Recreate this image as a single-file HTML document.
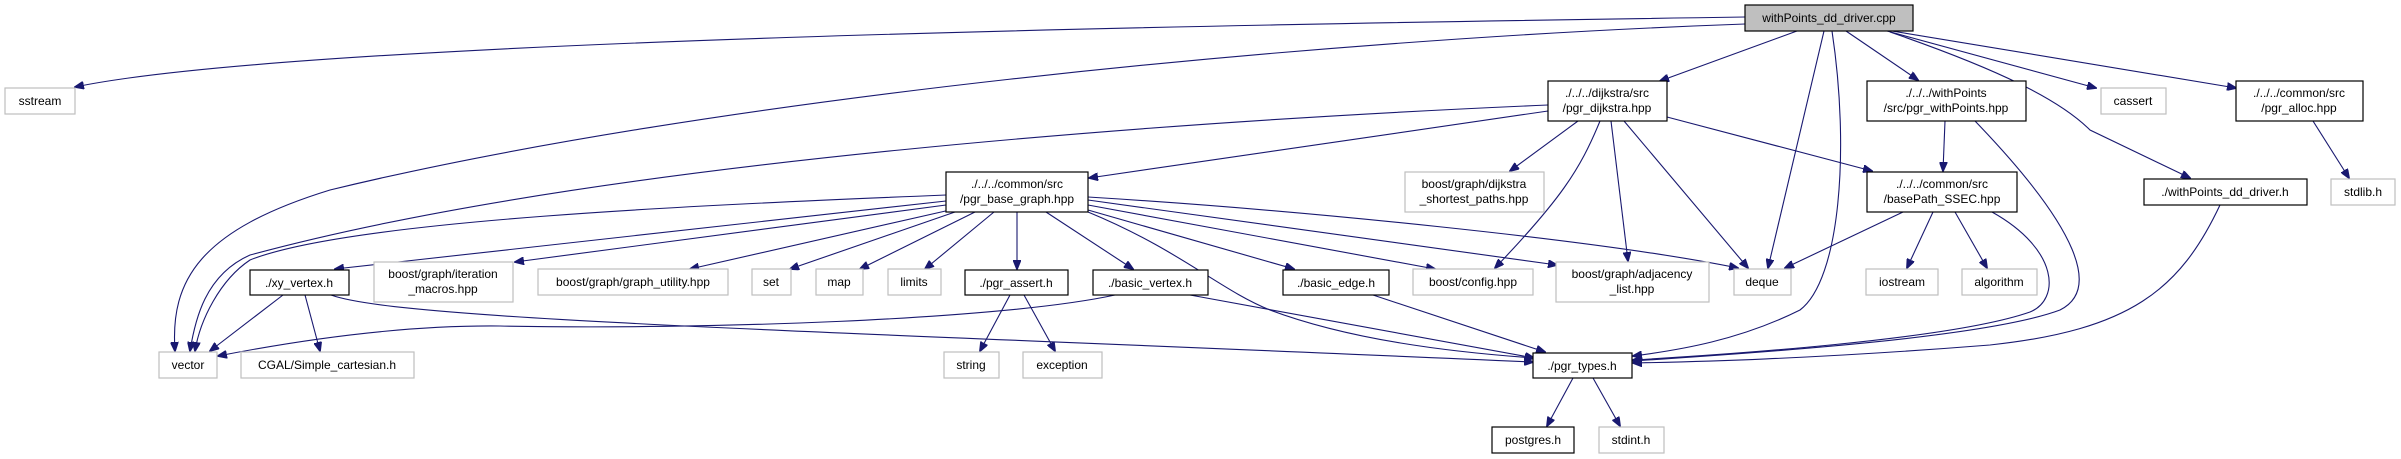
<!DOCTYPE html>
<html><head><meta charset="utf-8"><style>
html,body{margin:0;padding:0;background:#fff;}
svg{display:block;}
text{font-family:"Liberation Sans",Arial,sans-serif;font-size:12px;fill:#000;text-anchor:middle;}
.e{fill:none;stroke:#191970;stroke-width:1.1;marker-end:url(#a);}
.g{fill:#fff;stroke:#bfbfbf;stroke-width:1.2;}
.b{fill:#fff;stroke:#000;stroke-width:1.2;}
</style></head><body>
<svg width="2401" height="459" viewBox="0 0 2401 459" xmlns="http://www.w3.org/2000/svg">
<defs><marker id="a" markerWidth="10" markerHeight="8" refX="9" refY="4" orient="auto" markerUnits="userSpaceOnUse"><path d="M0,0 L10,4 L0,8 z" fill="#191970" stroke="#191970"/></marker></defs>
<!-- edges -->
<path class="e" d="M1745,17 C1200,25 300,40 75,87"/>
<path class="e" d="M1745,24 C1300,40 700,100 330,190 C200,230 170,280 175,351"/>
<path class="e" d="M1797,31 L1660,81"/>
<path class="e" d="M1824,31 L1768,268"/>
<path class="e" d="M1832,31 C1850,150 1840,280 1800,310 C1740,340 1680,350 1633,356"/>
<path class="e" d="M1846,31 L1918,80"/>
<path class="e" d="M1887,31 L2096,88"/>
<path class="e" d="M1892,31 L2236,88"/>
<path class="e" d="M1890,32 C2000,70 2060,100 2090,130 L2190,178"/>
<path class="e" d="M1548,105 C1200,120 600,160 250,255 C205,275 195,320 190,351"/>
<path class="e" d="M1548,111 L1089,178"/>
<path class="e" d="M1578,121 L1510,171"/>
<path class="e" d="M1600,121 C1580,170 1560,200 1495,268"/>
<path class="e" d="M1611,121 L1628,261"/>
<path class="e" d="M1624,121 L1748,268"/>
<path class="e" d="M1667,117 L1872,171"/>
<path class="e" d="M946,195 C700,205 350,220 250,260 C220,280 200,320 195,351"/>
<path class="e" d="M946,201 L335,269"/>
<path class="e" d="M946,205 L515,262"/>
<path class="e" d="M950,210 L690,269"/>
<path class="e" d="M955,212 L790,269"/>
<path class="e" d="M975,212 L860,269"/>
<path class="e" d="M994,212 L925,269"/>
<path class="e" d="M1017,212 L1017,269"/>
<path class="e" d="M1046,212 L1133,269"/>
<path class="e" d="M1088,210 L1294,269"/>
<path class="e" d="M1088,205 L1435,269"/>
<path class="e" d="M1088,200 L1557,265"/>
<path class="e" d="M1088,197 C1300,210 1600,240 1738,268"/>
<path class="e" d="M1088,212 C1180,250 1220,290 1270,310 C1350,340 1450,352 1534,358"/>
<path class="e" d="M1903,212 L1785,268"/>
<path class="e" d="M1933,212 L1907,268"/>
<path class="e" d="M1955,212 L1987,268"/>
<path class="e" d="M1992,212 C2060,250 2060,300 2030,312 C1950,340 1720,355 1633,360"/>
<path class="e" d="M1945,121 L1943,171"/>
<path class="e" d="M1975,121 C2080,230 2100,290 2060,310 C1980,340 1720,355 1633,361"/>
<path class="e" d="M2220,205 C2180,290 2130,330 1990,345 C1800,360 1680,362 1633,363"/>
<path class="e" d="M2313,121 L2349,178"/>
<path class="e" d="M283,295 L210,351"/>
<path class="e" d="M305,295 L320,351"/>
<path class="e" d="M331,295 C400,320 800,330 1533,362"/>
<path class="e" d="M1115,295 C1000,320 700,330 500,326 C400,325 300,340 218,356"/>
<path class="e" d="M1190,295 L1534,358"/>
<path class="e" d="M1373,295 L1545,352"/>
<path class="e" d="M1010,295 L980,351"/>
<path class="e" d="M1024,295 L1055,351"/>
<path class="e" d="M1573,378 L1547,426"/>
<path class="e" d="M1593,378 L1620,426"/>
<!-- nodes -->
<rect x="1745" y="5" width="168" height="26" fill="#bfbfbf" stroke="#000" stroke-width="1.2"/><text x="1829" y="22">withPoints_dd_driver.cpp</text>
<rect class="g" x="5" y="88" width="70" height="26"/><text x="40" y="105">sstream</text>
<rect class="b" x="1548" y="81" width="119" height="40"/><text x="1607" y="97">./../../dijkstra/src</text><text x="1607" y="112">/pgr_dijkstra.hpp</text>
<rect class="b" x="1867" y="81" width="159" height="40"/><text x="1946" y="97">./../../withPoints</text><text x="1946" y="112">/src/pgr_withPoints.hpp</text>
<rect class="g" x="2101" y="88" width="65" height="26"/><text x="2133" y="105">cassert</text>
<rect class="b" x="2236" y="81" width="127" height="40"/><text x="2299" y="97">./../../common/src</text><text x="2299" y="112">/pgr_alloc.hpp</text>
<rect class="b" x="946" y="172" width="142" height="40"/><text x="1017" y="188">./../../common/src</text><text x="1017" y="203">/pgr_base_graph.hpp</text>
<rect class="g" x="1405" y="172" width="139" height="40"/><text x="1474" y="188">boost/graph/dijkstra</text><text x="1474" y="203">_shortest_paths.hpp</text>
<rect class="b" x="1867" y="172" width="150" height="40"/><text x="1942" y="188">./../../common/src</text><text x="1942" y="203">/basePath_SSEC.hpp</text>
<rect class="b" x="2144" y="179" width="163" height="26"/><text x="2225" y="196">./withPoints_dd_driver.h</text>
<rect class="g" x="2331" y="179" width="64" height="26"/><text x="2363" y="196">stdlib.h</text>
<rect class="b" x="250" y="270" width="99" height="25"/><text x="299" y="287">./xy_vertex.h</text>
<rect class="g" x="374" y="262" width="139" height="40"/><text x="443" y="278">boost/graph/iteration</text><text x="443" y="293">_macros.hpp</text>
<rect class="g" x="538" y="269" width="190" height="26"/><text x="633" y="286">boost/graph/graph_utility.hpp</text>
<rect class="g" x="752" y="269" width="39" height="26"/><text x="771" y="286">set</text>
<rect class="g" x="816" y="269" width="47" height="26"/><text x="839" y="286">map</text>
<rect class="g" x="888" y="269" width="53" height="26"/><text x="914" y="286">limits</text>
<rect class="b" x="965" y="270" width="103" height="25"/><text x="1016" y="287">./pgr_assert.h</text>
<rect class="b" x="1093" y="270" width="115" height="25"/><text x="1150" y="287">./basic_vertex.h</text>
<rect class="b" x="1283" y="270" width="106" height="25"/><text x="1336" y="287">./basic_edge.h</text>
<rect class="g" x="1413" y="269" width="120" height="26"/><text x="1473" y="286">boost/config.hpp</text>
<rect class="g" x="1556" y="262" width="153" height="40"/><text x="1632" y="278">boost/graph/adjacency</text><text x="1632" y="293">_list.hpp</text>
<rect class="g" x="1734" y="269" width="57" height="26"/><text x="1762" y="286">deque</text>
<rect class="g" x="1866" y="269" width="72" height="26"/><text x="1902" y="286">iostream</text>
<rect class="g" x="1962" y="269" width="75" height="26"/><text x="1999" y="286">algorithm</text>
<rect class="g" x="159" y="352" width="58" height="26"/><text x="188" y="369">vector</text>
<rect class="g" x="241" y="352" width="173" height="26"/><text x="327" y="369">CGAL/Simple_cartesian.h</text>
<rect class="g" x="944" y="352" width="55" height="26"/><text x="971" y="369">string</text>
<rect class="g" x="1023" y="352" width="79" height="26"/><text x="1062" y="369">exception</text>
<rect class="b" x="1533" y="353" width="99" height="25"/><text x="1582" y="370">./pgr_types.h</text>
<rect class="b" x="1492" y="427" width="82" height="26"/><text x="1533" y="444">postgres.h</text>
<rect class="g" x="1599" y="427" width="65" height="26"/><text x="1631" y="444">stdint.h</text>
</svg>
</body></html>
